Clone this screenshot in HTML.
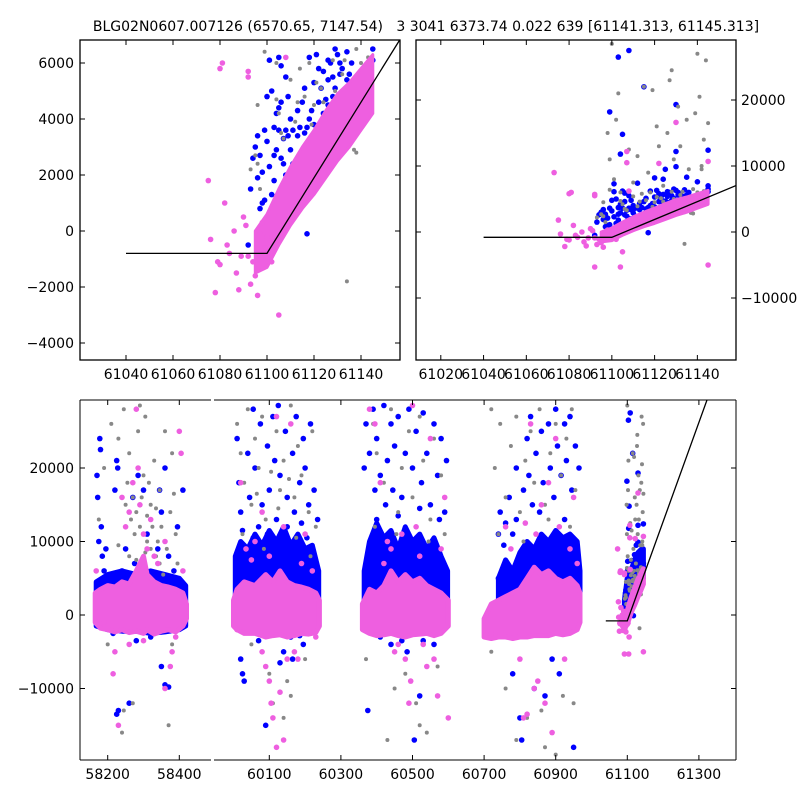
<!DOCTYPE html>
<html><head><meta charset="utf-8"><style>
body{margin:0;background:#fff}
svg text{font-family:"DejaVu Sans","Liberation Sans",sans-serif;font-size:14px;fill:#000;white-space:pre}
</style></head><body>
<svg id="chart" width="800" height="800" viewBox="0 0 800 800" xmlns="http://www.w3.org/2000/svg">
<rect width="800" height="800" fill="#fff"/>
<text x="426" y="31" text-anchor="middle" xml:space="preserve">BLG02N0607.007126 (6570.65, 7147.54)   3 3041 6373.74 0.022 639 [61141.313, 61145.313]</text>
<defs>
<clipPath id="cTL"><rect x="80" y="40" width="320" height="320"/></clipPath>
<clipPath id="cTR"><rect x="416" y="40" width="320" height="320"/></clipPath>
<clipPath id="cB1"><rect x="80" y="400" width="131" height="360"/></clipPath>
<clipPath id="cB2"><rect x="214" y="400" width="522" height="360"/></clipPath>
</defs>
<g id="layers"></g>
</svg>
<script>
// ---- data ----
const lineX=[61040,61100,61400];
const lineY=[-800,-800,39700];
// envelopes [x, low, high]
const pinkCore1=[[58165,-1000,3000],[58180,-1800,3500],[58200,-2000,4000],[58220,-2300,3800],[58240,-2000,4500],[58260,-2400,4200],[58280,-2200,6000],[58300,-2500,8000],[58310,-2000,5500],[58330,-2600,4500],[58350,-2200,4000],[58370,-2000,3800],[58390,-2300,3500],[58410,-1500,3000],[58420,-500,1500]];
const pinkCore2=[[60000,-1500,2000],[60010,-2000,3500],[60030,-2500,4500],[60060,-2500,4000],[60090,-3000,5500],[60110,-2800,4500],[60130,-2700,6000],[60150,-3000,4500],[60170,-2800,4000],[60190,-2500,3800],[60210,-2600,3500],[60230,-2400,3000],[60240,-1500,2000]];
const pinkCore3=[[60360,-2000,1500],[60380,-2500,3500],[60400,-2800,3000],[60420,-2700,4000],[60440,-2500,6000],[60460,-2800,4500],[60480,-3000,5500],[60500,-2700,4500],[60520,-2600,5000],[60540,-2500,4000],[60560,-2800,3500],[60580,-2500,3000],[60600,-1500,2000]];
const pinkCore4=[[60700,-3000,-500],[60720,-3200,1500],[60740,-3000,2000],[60760,-3000,2500],[60780,-3200,3000],[60800,-3000,3500],[60820,-3000,5000],[60840,-2800,6500],[60860,-2800,5500],[60880,-2800,6000],[60900,-2500,5000],[60920,-2700,4500],[60940,-2500,5000],[60960,-2000,4000],[60968,-1000,3000]];
const pinkCore5=[[61095,-1500,0],[61100,-1300,600],[61105,-500,1500],[61110,200,2300],[61115,800,3000],[61120,1300,3600],[61125,1900,4300],[61130,2500,4900],[61135,3000,5300],[61140,3600,5800],[61145,4200,6300]];
const blueCore1=[[58168,-1500,4500],[58200,-2000,5500],[58240,-2200,6000],[58280,-2200,5500],[58320,-2500,6000],[58360,-2300,5500],[58400,-2000,5000],[58418,-1500,4000]];
const blueCore2=[[60005,0,8000],[60020,-500,10000],[60040,0,9000],[60060,-500,11000],[60080,0,9500],[60100,0,11500],[60120,0,10000],[60140,0,12000],[60160,0,9500],[60180,0,11000],[60200,0,9000],[60220,0,9500],[60238,0,6000]];
const blueCore3=[[60365,1000,6000],[60380,0,10000],[60400,0,12500],[60420,0,10500],[60440,0,11500],[60460,0,9000],[60480,0,12000],[60500,0,10000],[60520,0,11000],[60540,0,9000],[60560,0,10500],[60580,0,8000],[60598,0,6000]];
const blueCore4=[[60740,0,5000],[60760,1000,7500],[60780,1500,6000],[60800,1500,8500],[60820,1500,10000],[60840,2000,9000],[60860,2000,11000],[60880,2000,10000],[60900,2000,11500],[60920,2000,10500],[60940,2000,11000],[60960,2000,10000],[60968,2000,6000]];
const blueCore5=[[61092,0,2000],[61100,0,5000],[61110,1000,6000],[61120,2500,7500],[61130,3500,8500],[61140,4500,9000],[61145,5000,9000]];
// scattered points [x, y]
const grayPts=[[58175,13000],[58190,20000],[58210,26000],[58230,24000],[58245,28000],[58255,18000],[58260,22000],[58270,16000],[58280,14000],[58285,25000],[58290,12000],[58300,19000],[58305,27000],[58310,10000],[58320,15000],[58330,21000],[58335,8000],[58345,17000],[58350,12000],[58360,25000],[58365,9000],[58375,14000],[58380,22000],[58390,11000],[58395,7000],[58240,-16000],[58245,-13000],[58270,-12000],[58370,-15000],[58200,-4000],[58380,-4000],[58300,6000],[58320,9000],[58340,10000],[58260,8000],[58280,7500],[58230,9500],[58355,5500],[58310,13500],[58290,28500],[58295,16000],[58315,18000],[58325,12000],[58335,14500],[58275,11000],[58265,13000],[58305,8500],[58345,7000],[58385,16500],[58250,15000],
[60010,26000],[60020,22000],[60030,18000],[60040,28000],[60050,15000],[60060,24000],[60070,20000],[60080,27000],[60090,13000],[60100,-8000],[60110,-12000],[60120,25000],[60130,17000],[60140,21000],[60150,-9000],[60160,28500],[60170,16000],[60180,23000],[60190,19000],[60200,-6000],[60210,14000],[60220,25000],[60230,12000],[60050,-4000],[60140,-14000],[60160,-11000],[60025,11000],[60085,9000],[60175,10500],[60215,8000],[60065,16500],[60105,19500],[60125,14500],[60155,18500],
[60370,-6000],[60390,26000],[60400,22000],[60420,18000],[60440,28000],[60450,-10000],[60460,14000],[60470,20000],[60480,-8000],[60490,25000],[60500,16000],[60510,-12000],[60520,27000],[60530,21000],[60540,-16000],[60550,13000],[60560,24000],[60570,-7000],[60580,19000],[60590,11000],[60430,-17000],[60520,-15000],[60395,12000],[60455,11000],[60545,10000],
[60720,28000],[60730,20000],[60745,26000],[60760,16000],[60775,23000],[60790,27000],[60800,14000],[60815,21000],[60830,25000],[60840,18000],[60855,28000],[60870,15000],[60885,22000],[60900,26000],[60915,19000],[60930,24000],[60945,28000],[60955,17000],[60720,-5000],[60760,-10000],[60790,-17000],[60820,-14000],[60860,-13000],[60900,-19000],[60920,-11000],[60950,-12000],[60870,-18000],[60740,11000],[60810,10000],[60880,13000],[60940,12000],
[61093,2200],[61095,2700],[61097,1500],[61098,15000],[61099,11000],[61100,28500],[61101,8000],[61102,17000],[61103,21000],[61104,6000],[61106,3500],[61108,12500],[61110,7500],[61112,11500],[61114,5800],[61115,22000],[61117,9000],[61119,21500],[61120,4500],[61121,16000],[61122,13000],[61124,7000],[61126,15000],[61127,23000],[61128,24500],[61129,11000],[61134,-1800],[61131,19000],[61132,13000],[61134,3000],[61135,17000],[61136,9500],[61138,6500],[61139,18000],[61140,27000],[61141,20500],[61142,10000],[61143,14000],[61144,26000],[61145,16500],[61096,4500],[61105,4200],[61110,5400],[61116,4800],[61118,6000],[61123,5100],[61125,4200],[61132,5600],[61137,5000],[61140,6000],[61142,9500],[61128,6100],[61134,4900],[61112,3900],
[61096,2400],[61099,6400],[61104,4700],[61107,3300],[61113,4600],[61119,3800],[61121,5300],[61124,4600],[61126,2900],[61129,5000],[61133,6100],[61137,2900],[61138,2800],[61141,5700],[61143,6200]];
const bluePts=[[58170,19000],[58172,16000],[58175,10000],[58178,24000],[58180,22500],[58182,12000],[58185,8000],[58190,6000],[58195,9000],[58210,4000],[58220,17000],[58225,21000],[58228,20000],[58240,6000],[58250,9000],[58255,3500],[58270,16000],[58275,7000],[58285,19000],[58300,17000],[58310,11000],[58320,4000],[58340,9000],[58345,17000],[58350,14000],[58360,20000],[58370,8000],[58385,6000],[58395,12000],[58405,4000],[58410,17000],[58225,-13500],[58230,-13000],[58260,-12000],[58360,-9500],[58370,-9800],[58320,-3000],[58280,-3500],[58215,-2500],[58350,-7000],[58240,-1500],
[60010,24000],[60015,18000],[60020,14000],[60025,-8000],[60030,-9000],[60040,22000],[60045,16000],[60055,28000],[60060,20000],[60070,12000],[60075,26000],[60080,15000],[60090,-15000],[60095,23000],[60100,17000],[60110,27000],[60115,21000],[60120,13000],[60125,28500],[60130,19000],[60140,-5000],[60145,25000],[60150,16000],[60160,-3000],[60165,22000],[60170,14000],[60175,27000],[60185,18000],[60190,12500],[60195,24000],[60200,20000],[60210,15000],[60215,26000],[60225,17000],[60235,13000],[60020,-6000],[60195,-4000],[60070,-3500],[60105,-2500],[60185,-2800],[60130,-6500],[60165,-6000],[60025,11500],[60055,10500],[60095,11000],[60150,12000],[60205,10500],
[60365,20000],[60370,26000],[60375,-13000],[60380,22000],[60390,28000],[60395,17000],[60400,24000],[60410,19000],[60420,28500],[60425,15000],[60430,21000],[60440,26000],[60445,17000],[60450,23000],[60460,27000],[60470,16000],[60480,22000],[60485,-5000],[60490,28000],[60500,20000],[60505,-17000],[60510,25000],[60520,-11000],[60525,18000],[60530,27500],[60540,22000],[60550,15000],[60560,26000],[60570,19000],[60580,24000],[60590,14000],[60595,21000],[60410,-3000],[60440,-4000],[60470,-3500],[60530,-3500],[60560,-4000],[60400,13000],[60460,13500],[60520,14500],[60575,13000],
[60740,11000],[60745,14000],[60755,9500],[60760,12500],[60770,16000],[60780,11000],[60790,20000],[60800,-14000],[60805,-17000],[60810,17000],[60820,24000],[60825,19000],[60830,27000],[60835,15000],[60840,-10000],[60845,22000],[60860,25000],[60865,18000],[60870,-11000],[60880,26000],[60885,20000],[60890,-6000],[60895,16000],[60900,28000],[60905,23000],[60910,-8000],[60915,19000],[60925,26000],[60930,21000],[60940,27000],[60945,17000],[60950,-18000],[60955,23000],[60965,20000],[60780,-8000],[60740,5000],[60790,13000],[60855,14000],[60925,13000],
[61092,-500],[61093,1500],[61094,2600],[61095,3000],[61096,3400],[61097,2700],[61098,1000],[61099,1100],[61099,3600],[61100,4800],[61101,6100],[61102,5000],[61103,2700],[61103,1800],[61104,800],[61104,4200],[61105,3600],[61105,4400],[61106,2600],[61106,5900],[61107,2400],[61107,1400],[61108,3600],[61108,5500],[61109,2000],[61109,3400],[61110,1800],[61110,4000],[61111,2400],[61111,1200],[61113,3400],[61113,1600],[61114,2600],[61115,4600],[61116,3500],[61117,-100],[61117,3700],[61118,6200],[61119,3100],[61120,3800],[61121,3000],[61122,5800],[61123,5100],[61123,3500],[61124,4200],[61125,4700],[61125,3200],[61126,5400],[61126,4500],[61127,4300],[61127,6000],[61128,4800],[61128,3900],[61129,5100],[61129,4200],[61130,4600],[61130,6300],[61131,5600],[61131,3700],[61132,4400],[61133,5000],[61134,6400],[61134,5400],[61135,5600],[61136,6000],[61137,4500],[61145,6500],[61145,6100],[61145,7000],[61103,26500],[61108,27500],[61115,22000],[61105,14800],[61099,18200],[61104,11800],[61130,19300],[61130,12200],[61145,12400],[61120,8200],[61125,9500],[61135,8300],[61140,7600],[61112,7400],[61101,7300],[61124,8000],[61130,9900],
[61096,1900],[61097,800],[61098,2100],[61100,3200],[61101,2300],[61102,1300],[61103,3700],[61104,2900],[61105,6200],[61106,4600],[61107,3300],[61108,2000],[61109,4800],[61110,2900],[61111,3600],[61112,1900],[61113,4300],[61114,3700],[61116,5100],[61117,2500],[61118,4000],[61119,4300],[61120,5300],[61121,6300],[61122,4600],[61124,5700],[61126,6100],[61127,3500],[61128,5500],[61129,6500],[61131,6000],[61132,5800],[61133,4400],[61135,5000],[61136,5300]];
const pinkPts=[[58168,6000],[58190,-1000],[58215,-8000],[58220,-5000],[58230,-15000],[58240,16000],[58250,12000],[58260,14000],[58270,18000],[58280,28000],[58285,20000],[58290,15000],[58300,11000],[58310,9000],[58320,13000],[58330,8000],[58340,7000],[58360,10000],[58380,-5000],[58390,-3000],[58400,25000],[58405,22000],[58410,6000],[58360,-10000],[58375,-7000],[58260,-4000],[58300,-3500],
[60010,-2000],[60020,18000],[60035,9000],[60060,10000],[60080,-5000],[60090,-7000],[60100,-9000],[60105,-12000],[60110,-14000],[60120,-18000],[60130,-10500],[60140,-17000],[60150,-6000],[60170,-5000],[60180,-6000],[60200,11000],[60120,27000],[60160,26000],[60190,7000],[60140,12000],[60100,8000],[60050,7500],[60220,6000],[60230,-3000],[60080,14000],
[60380,28000],[60395,26000],[60410,18000],[60420,7000],[60440,9000],[60450,-5000],[60460,-4000],[60470,11000],[60480,-6000],[60490,-12000],[60495,-9000],[60500,28500],[60510,12000],[60520,8000],[60530,-4000],[60540,-7000],[60550,24000],[60560,-6000],[60570,-11000],[60590,16000],[60600,-14000],[60430,10000],[60580,9000],
[60720,-2500],[60760,12000],[60775,9000],[60800,-6000],[60810,-14000],[60820,-13500],[60830,26000],[60840,-10000],[60850,-9000],[60860,15000],[60870,-12000],[60880,18000],[60890,-16000],[60900,24000],[60910,12000],[60925,-6000],[60940,9000],[60950,16000],[60960,7000],[60845,11000],[60815,12500],
[61075,1800],[61076,-300],[61078,-2200],[61079,-1100],[61080,-1200],[61081,6000],[61082,1000],[61083,-500],[61084,-800],[61086,0],[61087,-1500],[61088,-2100],[61089,-900],[61090,500],[61091,200],[61092,5700],[61092,-900],[61093,-1900],[61094,-1100],[61095,-1600],[61096,-2300],[61097,-100],[61098,300],[61099,-600],[61100,-200],[61102,-1100],[61105,-3000],[61104,-5300],[61092,-5300],[61145,-5000],[61108,6200],[61107,12200],[61107,10500],[61130,16600],[61122,10400],[61145,10700],[61073,9000],[61080,5800],[61092,5500]];
const tlXTicks=[61040,61060,61080,61100,61120,61140];
const tlYTicks=[-4000,-2000,0,2000,4000,6000];
const trXTicks=[61020,61040,61060,61080,61100,61120,61140];
const trYTicks=[-10000,0,10000,20000];
const bYTicks=[-10000,0,10000,20000];
const b1XTicks=[58200,58400];
const b2XTicks=[60100,60300,60500,60700,60900,61100,61300];

// ---- axes ----
const NS="http://www.w3.org/2000/svg";
const root=document.getElementById('layers');
const TL={x:x=>126+(x-61040)*2.35,y:y=>40+(6821-y)*0.028,clip:'cTL',zoom:true};
const TR={x:x=>416+(x-61008.4)*2.138,y:y=>232-y*0.0066,clip:'cTR',zoom:true};
const B1={x:x=>107.7+(x-58200)*0.358,y:y=>615-y*0.00735,clip:'cB1'};
const B2={x:x=>269.3+(x-60100)*0.358,y:y=>615-y*0.00735,clip:'cB2'};
function mk(tag,attrs,parent){const e=document.createElementNS(NS,tag);for(const k in attrs)e.setAttribute(k,attrs[k]);(parent||root).appendChild(e);return e;}
function envelope(ax,g,env,color,name,sw){
  let d='';env.forEach((p,i)=>{d+=(i?'L':'M')+ax.x(p[0]).toFixed(1)+' '+ax.y(p[2]).toFixed(1);});
  for(let i=env.length-1;i>=0;i--){d+='L'+ax.x(env[i][0]).toFixed(1)+' '+ax.y(env[i][1]).toFixed(1);}
  const e=mk('path',{d:d+'Z',fill:color,stroke:color,'stroke-width':sw,'stroke-linejoin':'round'},g);
  
  
}
function points(ax,g,pts,color,r,name){
  pts.forEach(p=>{const c=mk('circle',{cx:ax.x(p[0]).toFixed(1),cy:ax.y(p[1]).toFixed(1),r:r,fill:color},g);
    
    });
}
function panel(ax,name,filter){
  const g=mk('g',{'clip-path':'url(#'+ax.clip+')'});
  
  
  const inR=p=>filter(p[0]);
  if(!ax.zoom){
    [blueCore1,blueCore2,blueCore3,blueCore4,blueCore5].filter(e=>filter(e[0][0])).forEach(e=>envelope(ax,g,e,'#0000ff','blue-dense-band',5));
  }
  points(ax,g,bluePts.filter(inR),'#0000ff',2.8,'blue-point');
  points(ax,g,grayPts.filter(inR),'#888888',2,'gray-point');
  [pinkCore1,pinkCore2,pinkCore3,pinkCore4,pinkCore5].filter(e=>filter(e[0][0])).forEach(e=>envelope(ax,g,e,'#ee5fe0','pink-dense-band',ax.zoom?3:5));
  points(ax,g,pinkPts.filter(inR),'#ee5fe0',2.8,'pink-point');
  let d='';lineX.forEach((x,i)=>{d+=(i?'L':'M')+ax.x(x).toFixed(1)+' '+ax.y(lineY[i]).toFixed(1);});
  const l=mk('path',{d:d,fill:'none',stroke:'#000','stroke-width':1.3},g);
  
  
}
const s5=x=>x>61000, s12=x=>x<59000, s2on=x=>x>59000;
panel(TL,'top-left-plot',s5);
panel(TR,'top-right-plot',s5);
panel(B1,'bottom-plot-segment-1',s12);
panel(B2,'bottom-plot-segment-2',s2on);

// frames and ticks
function line(x1,y1,x2,y2,name){const e=mk('line',{x1,y1,x2,y2,stroke:'#000','stroke-width':1});}
function text(x,y,s,anchor,name){const t=mk('text',{x,y,'text-anchor':anchor});t.textContent=s;}
function fmt(v){return v<0?'\u2212'+(-v):String(v);}
function frame(x,y,w,h,name){const r=mk('rect',{x,y,width:w,height:h,fill:'none',stroke:'#000','stroke-width':1.3});}
frame(80,40,320,320,'top-left-frame');
frame(416,40,320,320,'top-right-frame');
tlXTicks.forEach(v=>{const px=TL.x(v);line(px,360,px,355,'x-tick');line(px,40,px,45,'x-tick');text(px,379,String(v),'middle','x-tick-label');});
tlYTicks.forEach(v=>{const py=TL.y(v);line(80,py,85,py,'y-tick');line(400,py,395,py,'y-tick');text(74,py+5,fmt(v),'end','y-tick-label');});
trXTicks.forEach(v=>{const px=TR.x(v);line(px,360,px,355,'x-tick');line(px,40,px,45,'x-tick');text(px,379,String(v),'middle','x-tick-label');});
trYTicks.forEach(v=>{const py=TR.y(v);line(416,py,421,py,'y-tick');line(736,py,731,py,'y-tick');text(741,py+5,fmt(v),'start','y-tick-label');});
line(80,400,80,760,'bottom-left-spine');line(736,400,736,760,'bottom-right-spine');
line(80,400,211,400,'bottom-top-spine-1');line(80,760,211,760,'bottom-bottom-spine-1');
line(214,400,736,400,'bottom-top-spine-2');line(214,760,736,760,'bottom-bottom-spine-2');
b1XTicks.forEach(v=>{const px=B1.x(v);line(px,760,px,755,'x-tick');line(px,400,px,405,'x-tick');text(px,779,String(v),'middle','x-tick-label');});
b2XTicks.forEach(v=>{const px=B2.x(v);line(px,760,px,755,'x-tick');line(px,400,px,405,'x-tick');text(px,779,String(v),'middle','x-tick-label');});
bYTicks.forEach(v=>{const py=B1.y(v);line(80,py,85,py,'y-tick');line(736,py,731,py,'y-tick');text(74,py+5,fmt(v),'end','y-tick-label');});
</script>
</body></html>
